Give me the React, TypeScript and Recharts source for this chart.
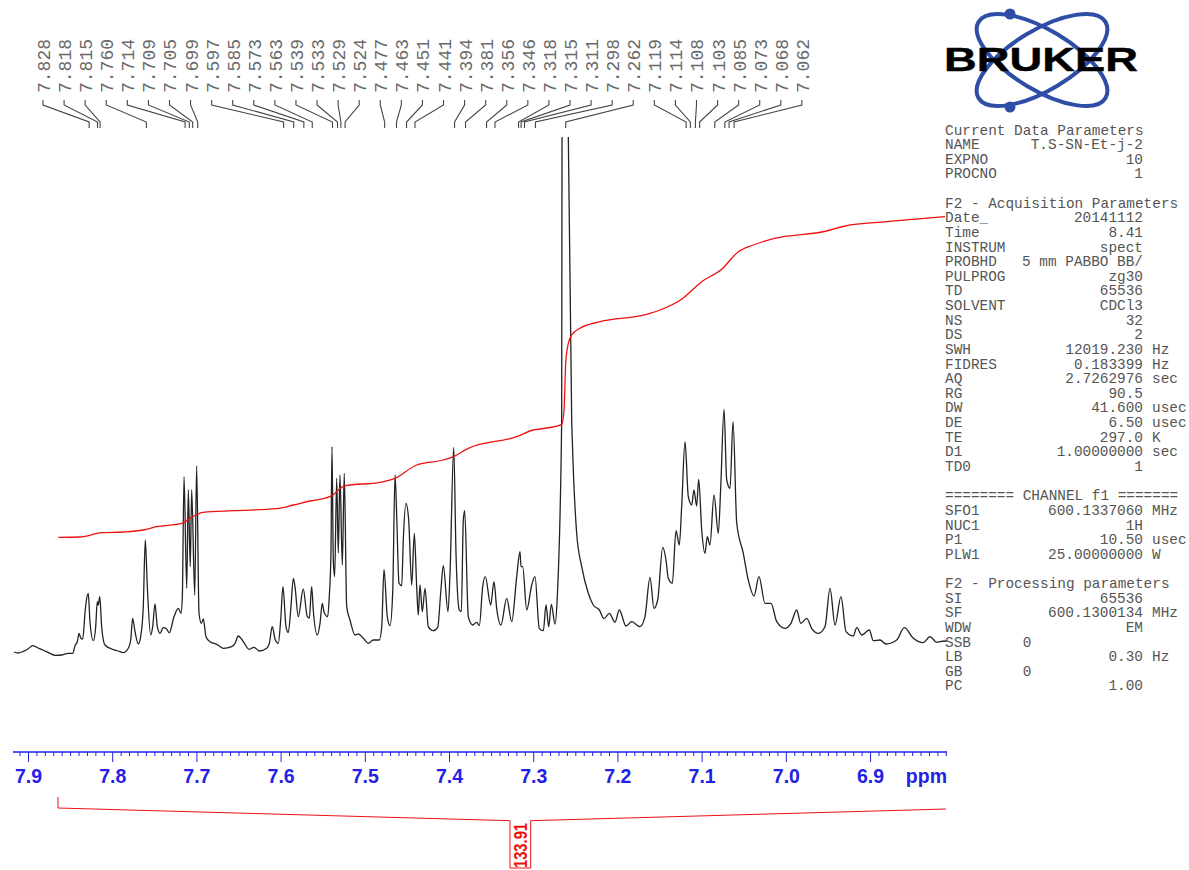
import React from "react";
import { ComposedChart, Line, XAxis, YAxis, Label } from "recharts";

const specPpm = [7.917,7.9125,7.9062,7.9002,7.895,7.8887,7.8828,7.8745,7.8685,7.8602,7.8531,7.8475,7.8444,7.842,7.84,7.8377,7.8356,7.8329,7.8317,7.829,7.827,7.823,7.8202,7.8183,7.8171,7.8154,7.8131,7.8092,7.8012,7.7934,7.7874,7.7815,7.7786,7.7763,7.7735,7.7696,7.7668,7.7637,7.7613,7.7589,7.7549,7.7525,7.7498,7.747,7.7438,7.7399,7.7367,7.7328,7.7272,7.7221,7.7189,7.7173,7.7153,7.7121,7.7102,7.7079,7.7062,7.7026,7.7003,7.6975,7.6948,7.6924,7.6892,7.6845,7.6765,7.6687,7.6587,7.6548,7.6509,7.6456,7.6378,7.6322,7.6259,7.6171,7.614,7.6105,7.6069,7.6033,7.6005,7.5978,7.5942,7.5915,7.5886,7.5855,7.5835,7.5796,7.5737,7.5689,7.5665,7.5637,7.5618,7.557,7.5538,7.5511,7.5491,7.5447,7.5428,7.5408,7.5396,7.538,7.5364,7.534,7.5321,7.5301,7.5273,7.525,7.5221,7.5182,7.5122,7.5083,7.5024,7.4964,7.4905,7.4834,7.4805,7.4778,7.4739,7.4707,7.4675,7.4647,7.4627,7.46,7.4568,7.4549,7.4517,7.4485,7.4449,7.4418,7.439,7.4371,7.4351,7.4323,7.4291,7.4252,7.4193,7.414,7.4105,7.4074,7.4018,7.3994,7.395,7.3923,7.3884,7.386,7.3836,7.382,7.3777,7.3725,7.3677,7.3646,7.3606,7.3575,7.3511,7.3472,7.344,7.3389,7.3321,7.3261,7.3202,7.3163,7.3151,7.3131,7.3083,7.3024,7.2985,7.2934,7.2886,7.2854,7.2822,7.2791,7.2747,7.272,7.2668,7.2664,7.262,7.2589,7.2549,7.2542,7.249,7.243,7.2352,7.2293,7.2221,7.2165,7.2102,7.2035,7.1984,7.1904,7.1836,7.1738,7.1679,7.1619,7.1572,7.1528,7.1468,7.1429,7.1402,7.1354,7.131,7.1271,7.1243,7.1203,7.1164,7.1124,7.1097,7.1065,7.1041,7.1005,7.0966,7.0939,7.0907,7.0859,7.0808,7.0779,7.074,7.0708,7.0669,7.0633,7.0589,7.0511,7.0452,7.0384,7.0325,7.0253,7.0182,7.0114,7.0016,6.9945,6.9877,6.9829,6.9758,6.9699,6.962,6.9541,6.9481,6.9422,6.9351,6.9291,6.9205,6.9164,6.9105,6.9015,6.8967,6.8888,6.8816,6.8689,6.8599,6.8492,6.8373,6.8294,6.8214,6.8175,6.8095];
const specInt = [3,2,3.7,6.3,9.3,7,5,1.7,-0.3,0,1.7,1.7,10,13.3,21.7,16.7,16,42,52,61.7,33.3,14.3,28.3,53.3,50,58.3,28.3,10,6,4,2.3,6.7,15,36.7,23.3,11,18.3,48.3,115,68.3,20,28.3,51,28.3,21.7,27.3,26.7,22.3,38.3,46.7,41.7,58.3,178.3,66.7,165,88.3,165,60,189,41.7,31.7,36,18.3,13.3,10.7,6.7,8.3,11.7,19,14.3,5.7,7.7,4,6.7,11.7,28.3,15,11.7,35,68.3,28.3,22.3,45,76.7,68.3,38.3,66,38.3,37,68.3,45,20,31.7,51.7,43.3,38.3,58.3,102,208.3,95,78.3,176.7,102,180,90,181.7,48.3,35,20,21,16.7,11.7,15,15,28.3,85.7,38.3,29.3,61.7,180,138.3,71.7,69.3,115,151.7,135,70,121.7,68.3,40,70,43.3,66.7,28.3,24.3,27.7,61.7,89.3,43.3,82,207.7,101.7,45,43.3,135,144.3,38.3,30,32.7,29.3,68.3,78.3,50,73.3,46.7,30,56.7,33.3,78.3,103.3,88.3,88.3,45,70,78.3,26.7,24.3,50,28.3,50.7,31,58.3,235,518,null,518,235,215,121.7,88.3,61.7,50,45,36.3,41.7,32.7,45,29,33.3,28.3,38.3,77.7,46.7,55,107.7,95,76.7,71.7,124.3,110,148.3,213.3,158.3,150,165,149,175.7,125,101.7,118.3,110,160,121.7,168.3,245.7,175,166.7,233.3,131.7,101.7,75,59,78.3,51.7,51.7,33.3,26.7,31.7,45,31.7,36.7,26.7,21.7,28.3,66.7,30,58.3,23.3,19,27.3,20,25,14.3,15,11,15,27.3,16.7,12.3,18.3,12.7,13.3,14];

const integralPpm = [7.8646,7.8388,7.8131,7.7874,7.7637,7.7478,7.7181,7.7062,7.6924,7.6568,7.6052,7.5855,7.5657,7.542,7.5241,7.4826,7.4647,7.439,7.4074,7.3955,7.3777,7.3202,7.3005,7.2926,7.2668,7.264,7.262,7.2589,7.2549,7.245,7.2213,7.1658,7.15,7.1243,7.1005,7.0768,7.057,7.0392,7.0155,6.9521,6.9303,6.8808,6.8116];
const integralInt = [117.7,118,122.3,123,125,128.3,131.7,137.7,142.7,144.3,146.3,150,154,158.3,169.3,172.7,176.7,190,195,198.3,206.7,218.3,225,226,230.7,245,292,311.7,320,326.7,333.3,340.7,345,355.7,373.3,385.7,403.3,410,416.3,424,429,433.3,438.3];

const peakLabels = ["7.828","7.818","7.815","7.760","7.714","7.709","7.705","7.699","7.597","7.585","7.573","7.563","7.539","7.533","7.529","7.524","7.477","7.463","7.451","7.441","7.394","7.381","7.356","7.346","7.318","7.315","7.311","7.298","7.262","7.119","7.114","7.108","7.103","7.085","7.073","7.068","7.062"];

const bracketPpm = [7.865,7.865,7.3282,7.3282,7.3036,7.3036,6.8104];
const bracketLevel = [73,62,49.3,2,2,49.3,61];
const integralValues = ["133.91"];

const majorTicks = [7.9,7.8,7.7,7.6,7.5,7.4,7.3,7.2,7.1,7.0,6.9];
const axisUnit = "ppm";

const paramLines: [string, string, string][] = [
  ["Current Data Parameters","",""],
  ["NAME","T.S-SN-Et-j-2",""],
  ["EXPNO","10",""],
  ["PROCNO","1",""],
  ["","",""],
  ["F2 - Acquisition Parameters","",""],
  ["Date_","20141112",""],
  ["Time","8.41",""],
  ["INSTRUM","spect",""],
  ["PROBHD","5 mm PABBO BB/",""],
  ["PULPROG","zg30",""],
  ["TD","65536",""],
  ["SOLVENT","CDCl3",""],
  ["NS","32",""],
  ["DS","2",""],
  ["SWH","12019.230","Hz"],
  ["FIDRES","0.183399","Hz"],
  ["AQ","2.7262976","sec"],
  ["RG","90.5",""],
  ["DW","41.600","usec"],
  ["DE","6.50","usec"],
  ["TE","297.0","K"],
  ["D1","1.00000000","sec"],
  ["TD0","1",""],
  ["","",""],
  ["======== CHANNEL f1 =======","",""],
  ["SFO1","600.1337060","MHz"],
  ["NUC1","1H",""],
  ["P1","10.50","usec"],
  ["PLW1","25.00000000","W"],
  ["","",""],
  ["F2 - Processing parameters","",""],
  ["SI","65536",""],
  ["SF","600.1300134","MHz"],
  ["WDW","EM",""],
  ["SSB      0","",""],
  ["LB","0.30","Hz"],
  ["GB       0","",""],
  ["PC","1.00",""],
];

const spectrumRows = specPpm.map((ppm, k) => ({ ppm, i: specInt[k] }));
const integralRows = integralPpm.map((ppm, k) => ({ ppm, i: integralInt[k] }));
const peakRows = peakLabels.map((label) => ({ ppm: Number(label), i: 527, label }));
const bracketRows = bracketPpm.map((ppm, k) => ({ ppm, i: bracketLevel[k] }));
const integralLabelRows = integralValues.map((label) => ({ ppm: 7.3161, i: 24, label }));

const hundredths: number[] = [];
for (let h = 791; h >= 681; h--) hundredths.push(h / 100);
const axisTicks = hundredths;

const MONO = "'Liberation Mono', monospace";
const ARIAL = "'Liberation Sans', Arial, sans-serif";
const BLUE = "#2222e6";
const RED = "#f01010";
const DOMAIN: [number, number] = [6.8092, 7.9184];
const MARGIN = { top: 0, left: 13, right: 242, bottom: 0 };

function AxisTick(props: any) {
  const { x, y, payload } = props;
  const v = payload.value as number;
  const isMajor = majorTicks.some((m) => Math.abs(m - v) < 0.001);
  return (
    <g>
      <line x1={x} x2={x} y1={y} y2={y + (isMajor ? 10 : 4)} stroke={BLUE} strokeWidth={1} />
      {isMajor && (
        <text x={x} y={y + 31} textAnchor="middle" fontFamily={ARIAL} fontWeight="bold" fontSize={19.5} fill={BLUE}>
          {v.toFixed(1)}
        </text>
      )}
    </g>
  );
}

function PeakLeader(props: any) {
  const { cx, cy, payload, index } = props;
  const lx = 43 + index * 21.08;
  return (
    <g key={payload.label}>
      <polyline
        points={`${lx},${cy - 28} ${lx},${cy - 23} ${cx},${cy - 6} ${cx},${cy}`}
        fill="none"
        stroke="#444"
        strokeWidth={1.1}
      />
      <text
        transform={`translate(${lx + 7},93) rotate(-90)`}
        fontFamily={MONO}
        fontSize={18}
        fill="#6a6a6a"
      >
        {payload.label}
      </text>
    </g>
  );
}

function IntegralText(props: any) {
  const { cx, cy, payload } = props;
  return (
    <text
      key={payload.label}
      transform={`translate(${cx + 7},${cy + 22}) rotate(-90)`}
      fontFamily={ARIAL}
      fontWeight="bold"
      fontSize={19}
      fill={RED}
      textLength={45}
      lengthAdjust="spacingAndGlyphs"
    >
      {payload.label}
    </text>
  );
}

function Logo() {
  return (
    <g>
      <ellipse cx={1042} cy={60} rx={74} ry={30} transform="rotate(31 1042 60)" fill="none" stroke="#2f4da6" strokeWidth={4} />
      <ellipse cx={1042} cy={60} rx={74} ry={30} transform="rotate(-31 1042 60)" fill="none" stroke="#2f4da6" strokeWidth={4} />
      <circle cx={1010} cy={14} r={5.5} fill="#2f4da6" />
      <circle cx={1010} cy={107} r={5.5} fill="#2f4da6" />
      <text
        x={944}
        y={71}
        fontFamily={ARIAL}
        fontWeight="bold"
        fontSize={33}
        fill="#000"
        stroke="#000"
        strokeWidth={0.4}
        textLength={194}
        lengthAdjust="spacingAndGlyphs"
      >
        BRUKER
      </text>
    </g>
  );
}

function Params() {
  return (
    <g fontFamily={MONO} fontSize={14.4} fill="#555">
      {paramLines.map(([name, value, unit], k) => {
        const y = 134.5 + k * 14.63;
        return (
          <g key={k}>
            {name && <text x={945} y={y} xmlSpace="preserve" style={{ whiteSpace: "pre" }}>{name}</text>}
            {value && <text x={1143} y={y} textAnchor="end">{value}</text>}
            {unit && <text x={1152} y={y}>{unit}</text>}
          </g>
        );
      })}
    </g>
  );
}

export default function App() {
  return (
    <div style={{ position: "absolute", left: 0, top: 0, width: 1189, height: 870, background: "#fff", overflow: "hidden" }}>
      <svg width={1189} height={870} style={{ position: "absolute", left: 0, top: 0 }}>
        <Logo />
        <Params />
      </svg>
      <div style={{ position: "absolute", left: 0, top: 0 }}>
        <ComposedChart width={1189} height={870} margin={MARGIN}>
          <XAxis
            dataKey="ppm"
            type="number"
            domain={DOMAIN}
            reversed
            allowDataOverflow
            ticks={axisTicks}
            interval={0}
            height={118}
            tickLine={false}
            tickSize={0}
            tickMargin={0}
            tick={<AxisTick />}
            axisLine={{ stroke: BLUE, strokeWidth: 1.5 }}
          >
            <Label
              value={axisUnit}
              position="insideTopRight"
              offset={0}
              dy={17}
              fontFamily={ARIAL}
              fontWeight="bold"
              fontSize={19.5}
              fill={BLUE}
            />
          </XAxis>
          <YAxis type="number" domain={[-97, 655]} hide allowDataOverflow />
          <Line data={spectrumRows} dataKey="i" type="monotoneX" stroke="#222" strokeWidth={1.3} dot={false} connectNulls={false} isAnimationActive={false} />
          <Line data={integralRows} dataKey="i" type="monotoneX" stroke={RED} strokeWidth={1.3} dot={false} isAnimationActive={false} />
          <Line data={peakRows} dataKey="i" type="linear" stroke="none" dot={<PeakLeader />} isAnimationActive={false} />
        </ComposedChart>
      </div>
      <div style={{ position: "absolute", left: 0, top: 752 }}>
        <ComposedChart width={1189} height={118} margin={MARGIN}>
          <XAxis dataKey="ppm" type="number" domain={DOMAIN} reversed allowDataOverflow hide />
          <YAxis type="number" domain={[0, 118]} hide allowDataOverflow />
          <Line data={bracketRows} dataKey="i" type="linear" stroke={RED} strokeWidth={1} dot={false} isAnimationActive={false} />
          <Line data={integralLabelRows} dataKey="i" type="linear" stroke="none" dot={<IntegralText />} isAnimationActive={false} />
        </ComposedChart>
      </div>
    </div>
  );
}
